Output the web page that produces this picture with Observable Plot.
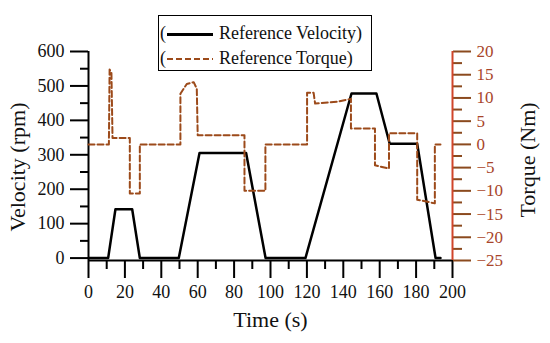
<!DOCTYPE html>
<html>
<head>
<meta charset="utf-8">
<script src="https://cdn.jsdelivr.net/npm/d3@7"></script>
<script src="https://cdn.jsdelivr.net/npm/@observablehq/plot@0.6"></script>
<style>
  body { margin: 0; background: #fff; }
  #wrap { position: relative; width: 550px; height: 343px; font-family: "Liberation Serif", serif; }
  #legend { position: absolute; left: 158px; top: 15px; width: 212px; height: 54px; border: 1.5px solid #000; background: #fff; font-size: 18px; color: #111; }
  .row { position: absolute; left: 0; height: 20px; line-height: 20px; white-space: nowrap; }
  .row .p { position: absolute; left: 1px; }
  .row .s { position: absolute; left: 8px; width: 46px; top: 10px; height: 2.5px; }
  .row .t { position: absolute; left: 60px; }
  .ytitle { position: absolute; width: 200px; height: 26px; line-height: 26px; text-align: center; font-size: 22px; color: #111; transform: rotate(-90deg); white-space: nowrap; }
</style>
</head>
<body>
<div id="wrap">
  <div id="chart"></div>
  <div id="legend">
    <div class="row" style="top:7px"><span class="p">(</span><span class="s" style="background:#000"></span><span class="t">Reference Velocity)</span></div>
    <div class="row" style="top:32px"><span class="p">(</span><span class="s" style="height:2px;background:repeating-linear-gradient(to right,#9c4a1a 0 6px,transparent 6px 9px)"></span><span class="t">Reference Torque)</span></div>
  </div>
  <div class="ytitle" style="left:-82px; top:154px">Velocity (rpm)</div>
  <div class="ytitle" style="left:428px; top:147px">Torque (Nm)</div>
</div>
<script>
// Reference velocity (rpm) vs time (s)
const velTime  = [0, 10.8, 14.8, 24, 28.2, 49.6, 61, 86.6, 97.3, 119.2, 144.5, 158.2, 165.5, 180.6, 190.7, 193.4];
const velValue = [0, 0, 142, 142, 0, 0, 305, 305, 0, 0, 478, 478, 332, 332, 0, 0];

// Reference torque (Nm) vs time (s)
const torqueTime  = [0, 11.2, 11.6, 12.6, 13.2, 22.7, 22.7, 28.2, 28.2, 50.5, 50.5, 54, 57.8, 59.5, 60, 85.7, 85.7, 97.2, 97.2, 120.1, 120.1, 123.7, 124.5, 136.7, 144.2, 144.2, 157.4, 157.4, 165.1, 165.1, 180.6, 180.6, 190.3, 190.3, 193.4];
const torqueValue = [0, 0, 16.1, 15.4, 1.4, 1.4, -10.6, -10.6, 0, 0, 10.9, 13, 13.4, 12, 1.95, 1.95, -10, -10, 0, 0, 11.1, 11.1, 8.8, 9.2, 9.8, 3.4, 3.4, -4.5, -5.2, 2.4, 2.4, -11.9, -12.7, 0, 0];

// Tick labels
const xTicks = [0, 20, 40, 60, 80, 100, 120, 140, 160, 180, 200];
const xMinor = [10, 30, 50, 70, 90, 110, 130, 150, 170, 190];
const vTicks = [0, 100, 200, 300, 400, 500, 600];
const vMinor = [50, 150, 250, 350, 450, 550];
const tTicks = [-25, -20, -15, -10, -5, 0, 5, 10, 15, 20];
const tMinor = [-22.5, -17.5, -12.5, -7.5, -2.5, 2.5, 7.5, 12.5, 17.5];

const yMin = -7, yMax = 600;
const tMin = -25, tMax = 20;
const yFromT = t => yMin + (t - tMin) * (yMax - yMin) / (tMax - tMin);
const tFromY = y => tMin + (y - yMin) * (tMax - tMin) / (yMax - yMin);

const vel = velTime.map((t, i) => ({t, v: velValue[i]}));
const tor = torqueTime.map((t, i) => ({t, T: torqueValue[i]}));

const axisRed = "#d0452a";
const tickBrown = "#8b4a1e";
const labelRed = "#a8452a";
const dashCol = "#9c4a1a";

const fmtT = y => { const T = Math.round(tFromY(y)); return T < 0 ? "\u2212" + Math.abs(T) : String(T); };

const chart = Plot.plot({
  width: 550,
  height: 343,
  marginLeft: 88,
  marginRight: 98,
  marginTop: 51,
  marginBottom: 83,
  style: {fontFamily: "Liberation Serif, serif", fontSize: "18px", background: "#fff", color: "#111"},
  x: {domain: [0, 200], axis: null},
  y: {domain: [yMin, yMax], axis: null},
  marks: [
    // bottom axis
    Plot.axisX(xTicks, {anchor: "bottom", tickSize: 18, tickPadding: 7, strokeWidth: 2, fontSize: 18, label: null, stroke: "#000", fill: "#111"}),
    Plot.axisX(xMinor, {anchor: "bottom", tickSize: 9, strokeWidth: 2, tickFormat: () => "", label: null, stroke: "#000"}),
    // left axis
    Plot.axisY(vTicks, {anchor: "left", tickSize: 18, tickPadding: 6, strokeWidth: 2, fontSize: 18, label: null, stroke: "#000", fill: "#111"}),
    Plot.axisY(vMinor, {anchor: "left", tickSize: 8, strokeWidth: 2, tickFormat: () => "", label: null, stroke: "#000"}),
    // right axis (torque)
    Plot.axisY(tTicks.map(yFromT), {anchor: "right", tickSize: 18, tickPadding: 6, strokeWidth: 2, fontSize: 17, tickFormat: fmtT, label: null, stroke: tickBrown, fill: labelRed}),
    Plot.axisY(tMinor.map(yFromT), {anchor: "right", tickSize: 9, strokeWidth: 2, tickFormat: () => "", label: null, stroke: tickBrown}),
    // frame lines
    Plot.ruleY([yMin], {stroke: "#000", strokeWidth: 2}),
    Plot.ruleX([0], {stroke: "#000", strokeWidth: 2}),
    Plot.ruleX([200], {stroke: axisRed, strokeWidth: 2}),
    // data
    Plot.line(vel, {x: "t", y: "v", stroke: "#000", strokeWidth: 2.5}),
    Plot.line(tor, {x: "t", y: d => yFromT(d.T), stroke: dashCol, strokeWidth: 2, strokeDasharray: "6,3"}),
    // x axis title
    Plot.text(["Time (s)"], {frameAnchor: "bottom", dy: 66, fontSize: 22, fill: "#111"})
  ]
});
document.getElementById("chart").appendChild(chart);
</script>
</body>
</html>
